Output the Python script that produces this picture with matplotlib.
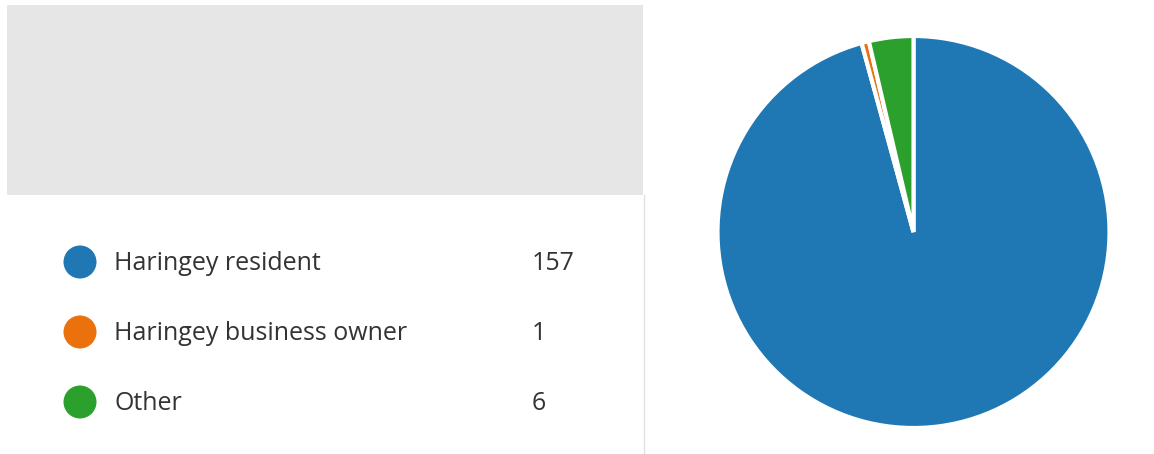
import matplotlib.pyplot as plt
from matplotlib.patches import Rectangle, Ellipse
from matplotlib.lines import Line2D

categories = ["Haringey resident", "Haringey business owner", "Other"]
counts = [157, 1, 6]
colors = ["#1f77b4", "#ea710c", "#2ca02c"]

W, H = 1154, 454
fig = plt.figure(figsize=(W / 100, H / 100), dpi=100)
fig.patch.set_facecolor("white")

def fx(x):
    return x / W

def fy(y):
    return 1 - y / H

# grey header block
fig.patches.append(Rectangle((fx(7), fy(195)), fx(643) - fx(7), fy(5) - fy(195),
                             transform=fig.transFigure, facecolor="#e6e6e6",
                             edgecolor="none", zorder=0))
# vertical divider
fig.lines.append(Line2D([fx(643.5), fx(643.5)], [fy(195), fy(454)],
                        transform=fig.transFigure, color="#e1e1e1", lw=1))

# legend rows
row_y = [262, 332, 402]
for cat, cnt, col, y in zip(categories, counts, colors, row_y):
    fig.patches.append(Ellipse((fx(80), fy(y)), 33 / W, 33 / H,
                               transform=fig.transFigure, facecolor=col,
                               edgecolor="none"))
    fig.text(fx(114), fy(y + 1), cat, fontsize=18, color="#333333",
             family="Open Sans", va="center", ha="left")
    fig.text(fx(532), fy(y + 1), str(cnt), fontsize=18, color="#333333",
             family="Open Sans", va="center", ha="left")

# pie
cx, cy, r = 913.5, 232, 196
ax = fig.add_axes([fx(cx - r), fy(cy + r), 2 * r / W, 2 * r / H])
ax.pie(counts, colors=colors, startangle=90, counterclock=False,
       wedgeprops=dict(edgecolor="white", linewidth=3))
ax.set_xlim(-1, 1)
ax.set_ylim(-1, 1)
ax.set_aspect("equal")
ax.axis("off")

fig.savefig("out.png", dpi=100, facecolor="white")
